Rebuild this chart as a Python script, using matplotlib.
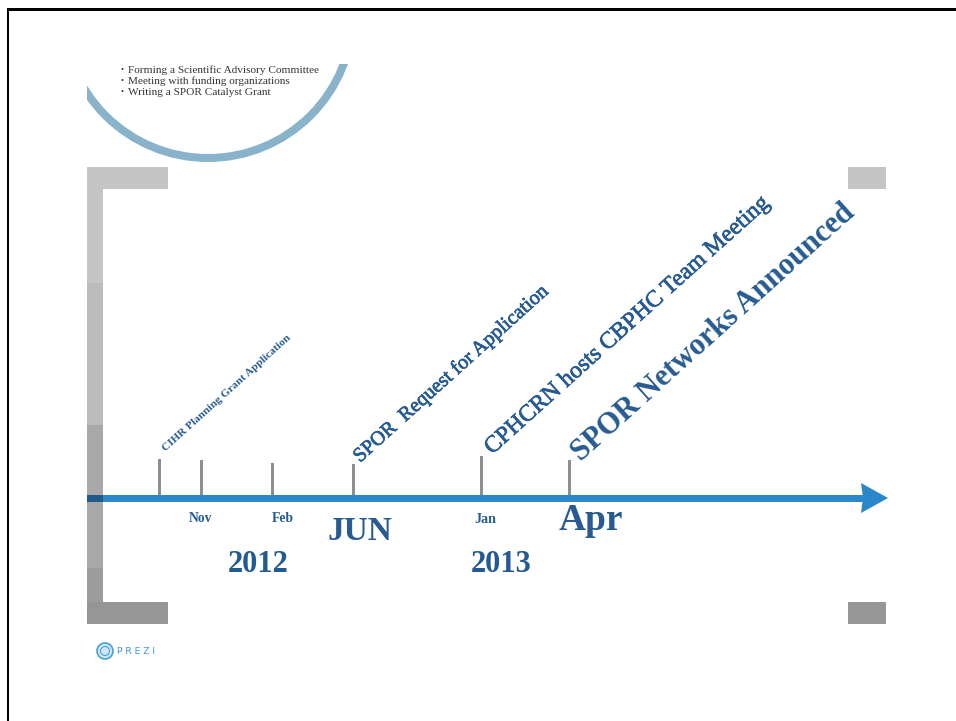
import matplotlib
matplotlib.use("Agg")
import matplotlib.pyplot as plt
import matplotlib.patheffects as pe
from matplotlib.patches import Rectangle, Polygon, Circle

# ---------------- data ----------------
bullets = ["Forming a Scientific Advisory Committee",
           "Meeting with funding organizations",
           "Writing a SPOR Catalyst Grant"]

tick_pos = [160, 202, 273, 354, 482, 570]          # timeline positions of markers
tick_top = [459, 460, 463, 464, 456, 460]

month_labels = ["Nov", "Feb", "JUN", "Jan", "Apr"]
month_x = [201, 283, 360, 485, 591]
month_size = [9.8, 9.8, 24, 10.2, 27]

year_labels = ["2012", "2013"]
year_x = [258, 501]

event_labels = ["CIHR Planning Grant Application",
                "SPOR  Request for Application",
                "CPHCRN hosts CBPHC Team Meeting",
                "SPOR Networks Announced"]
event_pos = [160, 354, 482, 570]
event_size = [8.2, 14.6, 17, 22.0]
event_weight = ["bold", "normal", "normal", "bold"]

# ---------------- figure ----------------
W, H = 956, 721
fig = plt.figure(figsize=(W / 100, H / 100), dpi=100)
ax = fig.add_axes([0, 0, 1, 1])
ax.set_xlim(0, W)
ax.set_ylim(H, 0)
ax.axis("off")

SERIF = ["Liberation Serif", "DejaVu Serif"]
BLUE_TXT = "#275b91"

# outer black frame (top and left)
ax.add_patch(Rectangle((7, 8), 2.5, H, color="black", lw=0))
ax.add_patch(Rectangle((7, 8), W, 2.5, color="black", lw=0))

# circle ring (clipped)
ring = Circle((208, 13), 145, fill=False, lw=8 * 0.72, ec="#88b3cb")
ax.add_patch(ring)
clip = Rectangle((87, 64), 400, 200, transform=ax.transData, fc="none", ec="none")
ax.add_patch(clip)
ring.set_clip_path(clip)

# bullet text
for i, b in enumerate(bullets):
    y = 70 + 11.2 * i
    ax.text(121, y, "\u2022", fontsize=6, va="center", ha="left", color="#333333",
            family=SERIF)
    ax.text(128, y, b, fontsize=8.1, va="center", ha="left", color="#333333",
            family=SERIF)

# left bracket
ax.add_patch(Rectangle((87, 167), 81, 22, color="#c5c5c5", lw=0))
ax.add_patch(Rectangle((87, 167), 16, 116, color="#c5c5c5", lw=0))
ax.add_patch(Rectangle((87, 283), 16, 142, color="#bcbcbc", lw=0))
ax.add_patch(Rectangle((87, 425), 16, 143, color="#a8a8a8", lw=0))
ax.add_patch(Rectangle((87, 568), 16, 56, color="#9c9c9c", lw=0))
ax.add_patch(Rectangle((87, 602), 81, 22, color="#969696", lw=0))
# right bracket
ax.add_patch(Rectangle((848, 167), 38, 22, color="#c5c5c5", lw=0))
ax.add_patch(Rectangle((848, 602), 38, 22, color="#969696", lw=0))

# timeline arrow
ax.add_patch(Rectangle((87, 494.5), 776, 7, color="#2a87c9", lw=0))
ax.add_patch(Rectangle((87, 494.5), 16, 7, color="#1e5b8c", lw=0))
ax.add_patch(Polygon([(861, 483), (888, 498), (861, 513), (863, 498)],
                     closed=True, color="#2a87c9", lw=0))

# tick marks
for x, t in zip(tick_pos, tick_top):
    ax.add_patch(Rectangle((x - 1.5, t), 3, 495 - t, color="#8e8e8e", lw=0))

# month labels
base = [522, 522, 540, 523, 530]
for lab, x, s, yb in zip(month_labels, month_x, month_size, base):
    ax.text(x, yb, lab, fontsize=s, fontweight="bold", ha="center", va="baseline",
            color=BLUE_TXT, family=SERIF)

# years
for lab, x in zip(year_labels, year_x):
    ax.text(x, 572, lab, fontsize=22, fontweight="bold", ha="center", va="baseline",
            color="#245a92", family=SERIF)

# event labels (rotated)
starts = [(166, 452), (360, 463), (492, 455), (581, 462)]
for lab, (x, yb), s, w in zip(event_labels, starts, event_size, event_weight):
    effects = [pe.withStroke(linewidth=0.5, foreground=BLUE_TXT)] if w == "normal" else []
    ax.text(x, yb, lab, fontsize=s, fontweight=w, rotation=42,
            rotation_mode="anchor", ha="left", va="baseline",
            color=BLUE_TXT, family=SERIF, path_effects=effects)

# Prezi logo
ax.add_patch(Circle((105, 651), 8, fc="#cfe6f5", ec="#4aa0d8", lw=1.2))
ax.add_patch(Circle((105, 651), 4.5, fc="none", ec="#4aa0d8", lw=0.8))
ax.text(117, 651, "P R E Z I", fontsize=6.6, va="center", ha="left",
        color="#3b95d4", family=["DejaVu Sans"])

fig.savefig("out.png", dpi=100, facecolor="white")
